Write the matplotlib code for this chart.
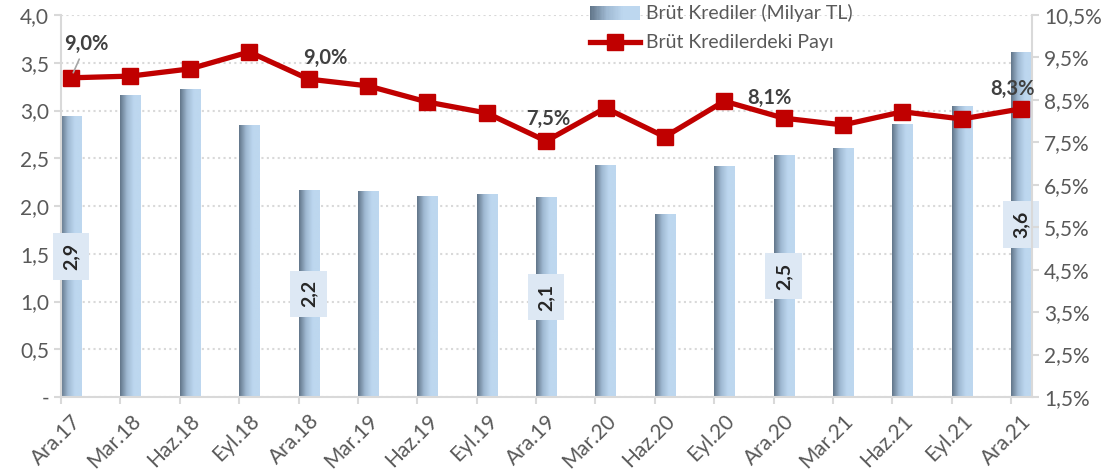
import numpy as np
import matplotlib
matplotlib.use("Agg")
from matplotlib import pyplot as plt
from matplotlib.colors import LinearSegmentedColormap
from matplotlib.patches import Rectangle
from matplotlib.lines import Line2D
from matplotlib.legend_handler import HandlerBase

plt.rcParams['font.family'] = ['Lato', 'DejaVu Sans']

# data
periods = ["Ara.17", "Mar.18", "Haz.18", "Eyl.18", "Ara.18", "Mar.19", "Haz.19", "Eyl.19",
           "Ara.19", "Mar.20", "Haz.20", "Eyl.20", "Ara.20", "Mar.21", "Haz.21", "Eyl.21", "Ara.21"]
credits = [2.94, 3.16, 3.22, 2.84, 2.16, 2.15, 2.10, 2.12, 2.09, 2.42, 1.91, 2.41, 2.53, 2.60, 2.85, 3.04, 3.61]
share = [9.02, 9.06, 9.23, 9.63, 8.99, 8.83, 8.45, 8.19, 7.53, 8.31, 7.63, 8.47, 8.07, 7.91, 8.22, 8.05, 8.29]
bar_label_idx = [0, 4, 8, 12, 16]
line_label_idx = [0, 4, 8, 12, 16]

grey = '#595959'
light = '#d9d9d9'
red = '#c00000'
cmap = LinearSegmentedColormap.from_list('bar', ['#62768a', '#9fb9d2', '#bdd7ef', '#bdd7ef'])

def fmt(v, dec=1):
    return f"{v:.{dec}f}".replace('.', ',')

fig = plt.figure(figsize=(11.18, 4.75), dpi=100)
ax = fig.add_axes([61/1118, 78/475, (1032-61)/1118, (397-15)/475])
ax2 = ax.twinx()

x = np.arange(len(periods))
w = 0.337
bars = ax.bar(x, credits, width=w, align='edge', color='none', zorder=2)
grad = np.linspace(0, 1, 64).reshape(1, -1)
for b in bars:
    ax.imshow(grad, extent=[b.get_x(), b.get_x() + b.get_width(), 0, b.get_height()],
              aspect='auto', cmap=cmap, zorder=2, interpolation='bilinear')

for i in bar_label_idx:
    txt = fmt(np.floor(credits[i] * 10) / 10) if i == 0 else fmt(credits[i])
    ax.text(x[i] + w / 2, credits[i] / 2, txt, rotation=90, ha='center', va='center',
            fontsize=14, fontweight='bold', color='#262626', zorder=5,
            bbox=dict(boxstyle='square,pad=0.5', facecolor='#dde8f4', edgecolor='none'))

ax.set_xlim(0, 16.35)
ax.set_ylim(0, 4.0)
ax.set_yticks(np.arange(0, 4.01, 0.5))
ax.set_yticklabels(['-'] + [fmt(v) for v in np.arange(0.5, 4.01, 0.5)])
# tick marks at category edges, labels under the bar centres
ax.set_xticks(x)
ax.set_xticklabels([])
ax.set_xticks(x + w / 2, minor=True)
ax.set_xticklabels(periods, minor=True, rotation=45, ha='right', rotation_mode='anchor')
ax.tick_params(axis='x', which='minor', length=0, pad=10)
ax.yaxis.grid(True, linestyle=(0, (1, 1.6)), color=light, linewidth=1.5)
ax.set_axisbelow(True)

ax2.plot(x + w / 2, share, color=red, linewidth=3.8, marker='s', markersize=12, zorder=4)
ax2.set_ylim(1.5, 10.5)
ax2.set_yticks(np.arange(1.5, 10.51, 1.0))
ax2.set_yticklabels([fmt(v) + '%' for v in np.arange(1.5, 10.51, 1.0)])

offsets = {0: (15, 34), 4: (17, 21), 8: (2, 22), 12: (-14, 20), 16: (-9, 20)}
for i in line_label_idx:
    dx, dy = offsets[i]
    kw = {}
    if i == 0:
        kw['arrowprops'] = dict(arrowstyle='-', color='#a6a6a6', lw=1.2, shrinkA=2, shrinkB=4)
    ax2.annotate(fmt(share[i]) + '%', (x[i] + w / 2, share[i]), xytext=(dx, dy),
                 textcoords='offset pixels', ha='center', va='center', fontsize=14.5,
                 fontweight='bold', color='#404040', zorder=6, **kw)

for a in (ax, ax2):
    for s in a.spines.values():
        s.set_color(light)
        s.set_linewidth(1.5)
    a.spines['top'].set_visible(False)
    a.tick_params(which='major', colors=light, labelcolor=grey, labelsize=15, length=5, width=1.5)
ax.tick_params(axis='x', which='minor', labelcolor=grey, labelsize=15)
ax2.spines['left'].set_visible(False)
ax2.spines['bottom'].set_visible(False)
ax.spines['right'].set_visible(False)


class GradHandler(HandlerBase):
    def create_artists(self, legend, orig, xd, yd, width, height, fontsize, trans):
        n = 40
        arts = []
        for k in range(n):
            arts.append(Rectangle((xd + width * k / n, yd - height * 0.05), width / n * 1.1, height * 1.0,
                                  facecolor=cmap(k / (n - 1)), edgecolor='none', transform=trans))
        return arts


h_bar = Rectangle((0, 0), 1, 1)
h_line = Line2D([], [], color=red, linewidth=3.8, marker='s', markersize=12)
leg = fig.legend([h_bar, h_line], ["Brüt Krediler (Milyar TL)", "Brüt Kredilerdeki Payı"],
                 handler_map={Rectangle: GradHandler()}, loc='upper left',
                 bbox_to_anchor=(582/1118, 1 + 4/475), frameon=False, fontsize=14,
                 handlelength=2.6, handletextpad=0.3, labelspacing=0.65, borderaxespad=0)
for t in leg.get_texts():
    t.set_color(grey)

fig.savefig('out.png', dpi=100)
